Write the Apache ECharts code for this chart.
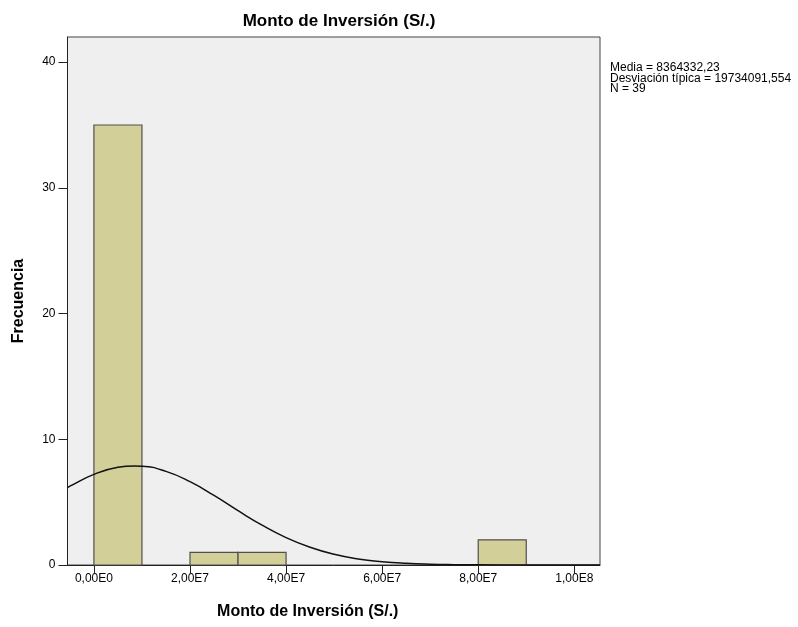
<!DOCTYPE html>
<html>
<head>
<meta charset="utf-8">
<script src="https://cdn.jsdelivr.net/npm/echarts@6/dist/echarts.min.js"></script>
<style>
  html, body { margin: 0; padding: 0; background: #fff; }
  #chart { width: 798px; height: 627px; }
</style>
</head>
<body>
<div id="chart"></div>
<script>
// histogram bins (bin start, bin end) and counts
const binStarts = [0, 2e7, 3e7, 8e7]
const binEnds = [1e7, 3e7, 4e7, 9e7]
const counts = [35, 1, 1, 2]

// normal curve, values
const curveX = [-5.5e6, -5e6, 0, 5e6, 8.4e6, 1e7, 1.5e7, 2e7, 2.5e7, 3e7, 3.5e7, 4e7, 4.5e7, 5e7, 5.5e7, 6e7, 6.5e7, 7e7, 7.5e7, 8e7, 9e7, 1e8, 1.0535e8]
const curveY = [6.15, 6.27, 7.21, 7.77, 7.88, 7.86, 7.45, 6.63, 5.53, 4.32, 3.17, 2.18, 1.41, 0.85, 0.48, 0.26, 0.13, 0.06, 0.026, 0.011, 0.002, 0, 0]

const xTicks = [0, 2e7, 4e7, 6e7, 8e7, 1e8]
const xTickLabels = ['0,00E0', '2,00E7', '4,00E7', '6,00E7', '8,00E7', '1,00E8']
const yTicks = [0, 10, 20, 30, 40]
const statLines = ['Media = 8364332,23', 'Desviación típica = 19734091,554', 'N = 39']

const chart = echarts.init(document.getElementById('chart'))
const font = 'Liberation Sans, Arial, sans-serif'

chart.setOption({
  animation: false,
  title: {
    text: 'Monto de Inversión (S/.)',
    left: 334, top: 8, textAlign: 'center',
    textStyle: { fontFamily: font, fontSize: 17, fontWeight: 'bold', color: '#000' }
  },
  grid: {
    left: 67.5, right: 198, top: 37, bottom: 62, outerBoundsMode: 'none', containLabel: false,
    show: true, backgroundColor: '#efefef', borderColor: '#444', borderWidth: 1
  },
  xAxis: {
    type: 'value', min: -5.5e6, max: 1.0535e8,
    name: 'Monto de Inversión (S/.)', nameLocation: 'middle', nameGap: 39,
    nameTextStyle: { fontFamily: font, fontSize: 16, fontWeight: 'bold', color: '#000', padding: [0, 52, 0, 0] },
    axisLine: { onZero: false, lineStyle: { color: '#222' } },
    axisTick: { show: true, length: 8, customValues: xTicks, lineStyle: { color: '#222' } },
    axisLabel: {
      customValues: xTicks, fontFamily: font, fontSize: 12, color: '#000', margin: 8,
      formatter: v => xTickLabels[xTicks.indexOf(v)] || ''
    },
    splitLine: { show: false }
  },
  yAxis: {
    type: 'value', min: 0, max: 42,
    name: 'Frecuencia', nameLocation: 'middle', nameGap: 41,
    nameTextStyle: { fontFamily: font, fontSize: 16, fontWeight: 'bold', color: '#000' },
    axisLine: { show: true, onZero: false, lineStyle: { color: '#222' } },
    axisTick: { show: true, length: 9, customValues: yTicks, lineStyle: { color: '#222' } },
    axisLabel: { customValues: yTicks, fontFamily: font, fontSize: 12, color: '#000', margin: 12 },
    splitLine: { show: false }
  },
  graphic: [{
    type: 'text', left: 610, top: 62,
    style: { text: statLines.join('\n'), fontFamily: font, fontSize: 12, lineHeight: 10.5, fill: '#000' }
  }],
  series: [
    {
      type: 'custom',
      data: binStarts.map((s, i) => [s, binEnds[i], counts[i]]),
      encode: { x: [0, 1], y: 2 },
      renderItem: (params, api) => {
        const p0 = api.coord([api.value(0), api.value(2)])
        const p1 = api.coord([api.value(1), 0])
        return {
          type: 'rect',
          shape: { x: p0[0], y: p0[1], width: p1[0] - p0[0], height: p1[1] - p0[1] },
          style: { fill: '#d3cf98', stroke: '#505050', lineWidth: 1.2 }
        }
      }
    },
    {
      type: 'line', smooth: true, symbol: 'none', clip: true,
      data: curveX.map((x, i) => [x, curveY[i]]),
      lineStyle: { color: '#111', width: 1.5 }
    }
  ]
})
</script>
</body>
</html>
